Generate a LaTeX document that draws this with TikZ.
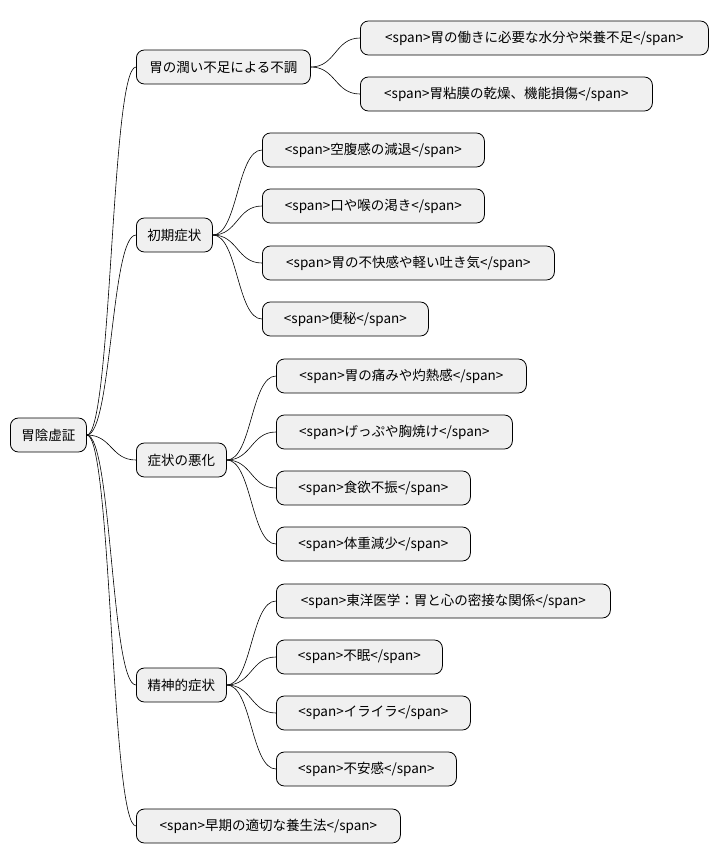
\documentclass[tikz,border=0pt]{standalone}
\usepackage{fontspec}
\setmainfont{Noto Sans CJK JP}
\begin{document}
\begin{tikzpicture}[x=1pt,y=-1pt,
  box/.style={draw=black,line width=0.8pt,fill=black!6,rounded corners=8pt,anchor=west,
    minimum height=34pt,inner xsep=4pt,font=\fontsize{13.5}{15}\selectfont},
  w/.style={minimum width=#1pt},
  link/.style={draw=black,line width=0.6pt}]
\useasboundingbox (0,0) rectangle (719,865);
\node[box,w=76] (r) at (10,435) {胃陰虚証};
\node[box,w=174] (a) at (136,67) {胃の潤い不足による不調};
\node[box,w=76] (b) at (136,235) {初期症状};
\node[box,w=90] (c) at (136,460) {症状の悪化};
\node[box,w=90] (d) at (136,685) {精神的症状};
\node[box,w=264] (e) at (136,826) {<span>早期の適切な養生法</span>};
\node[box,w=348] (a1) at (360,38) {<span>胃の働きに必要な水分や栄養不足</span>};
\node[box,w=292] (a2) at (360,94) {<span>胃粘膜の乾燥、機能損傷</span>};
\node[box,w=222] (b1) at (262,150) {<span>空腹感の減退</span>};
\node[box,w=222] (b2) at (262,206) {<span>口や喉の渇き</span>};
\node[box,w=292] (b3) at (262,263) {<span>胃の不快感や軽い吐き気</span>};
\node[box,w=166] (b4) at (262,319) {<span>便秘</span>};
\node[box,w=250] (c1) at (276,376) {<span>胃の痛みや灼熱感</span>};
\node[box,w=236] (c2) at (276,432) {<span>げっぷや胸焼け</span>};
\node[box,w=194] (c3) at (276,488) {<span>食欲不振</span>};
\node[box,w=194] (c4) at (276,544) {<span>体重減少</span>};
\node[box,w=334] (d1) at (276,601) {<span>東洋医学：胃と心の密接な関係</span>};
\node[box,w=166] (d2) at (276,657) {<span>不眠</span>};
\node[box,w=194] (d3) at (276,713) {<span>イライラ</span>};
\node[box,w=180] (d4) at (276,769) {<span>不安感</span>};
\foreach \p/\c in {r/a,r/b,r/c,r/d,r/e,a/a1,a/a2,b/b1,b/b2,b/b3,b/b4,c/c1,c/c2,c/c3,c/c4,d/d1,d/d2,d/d3,d/d4}
  \draw[link] (\p.east) .. controls ([xshift=25pt]\p.east) and ([xshift=-25pt]\c.west) .. (\c.west);
\end{tikzpicture}
\end{document}
